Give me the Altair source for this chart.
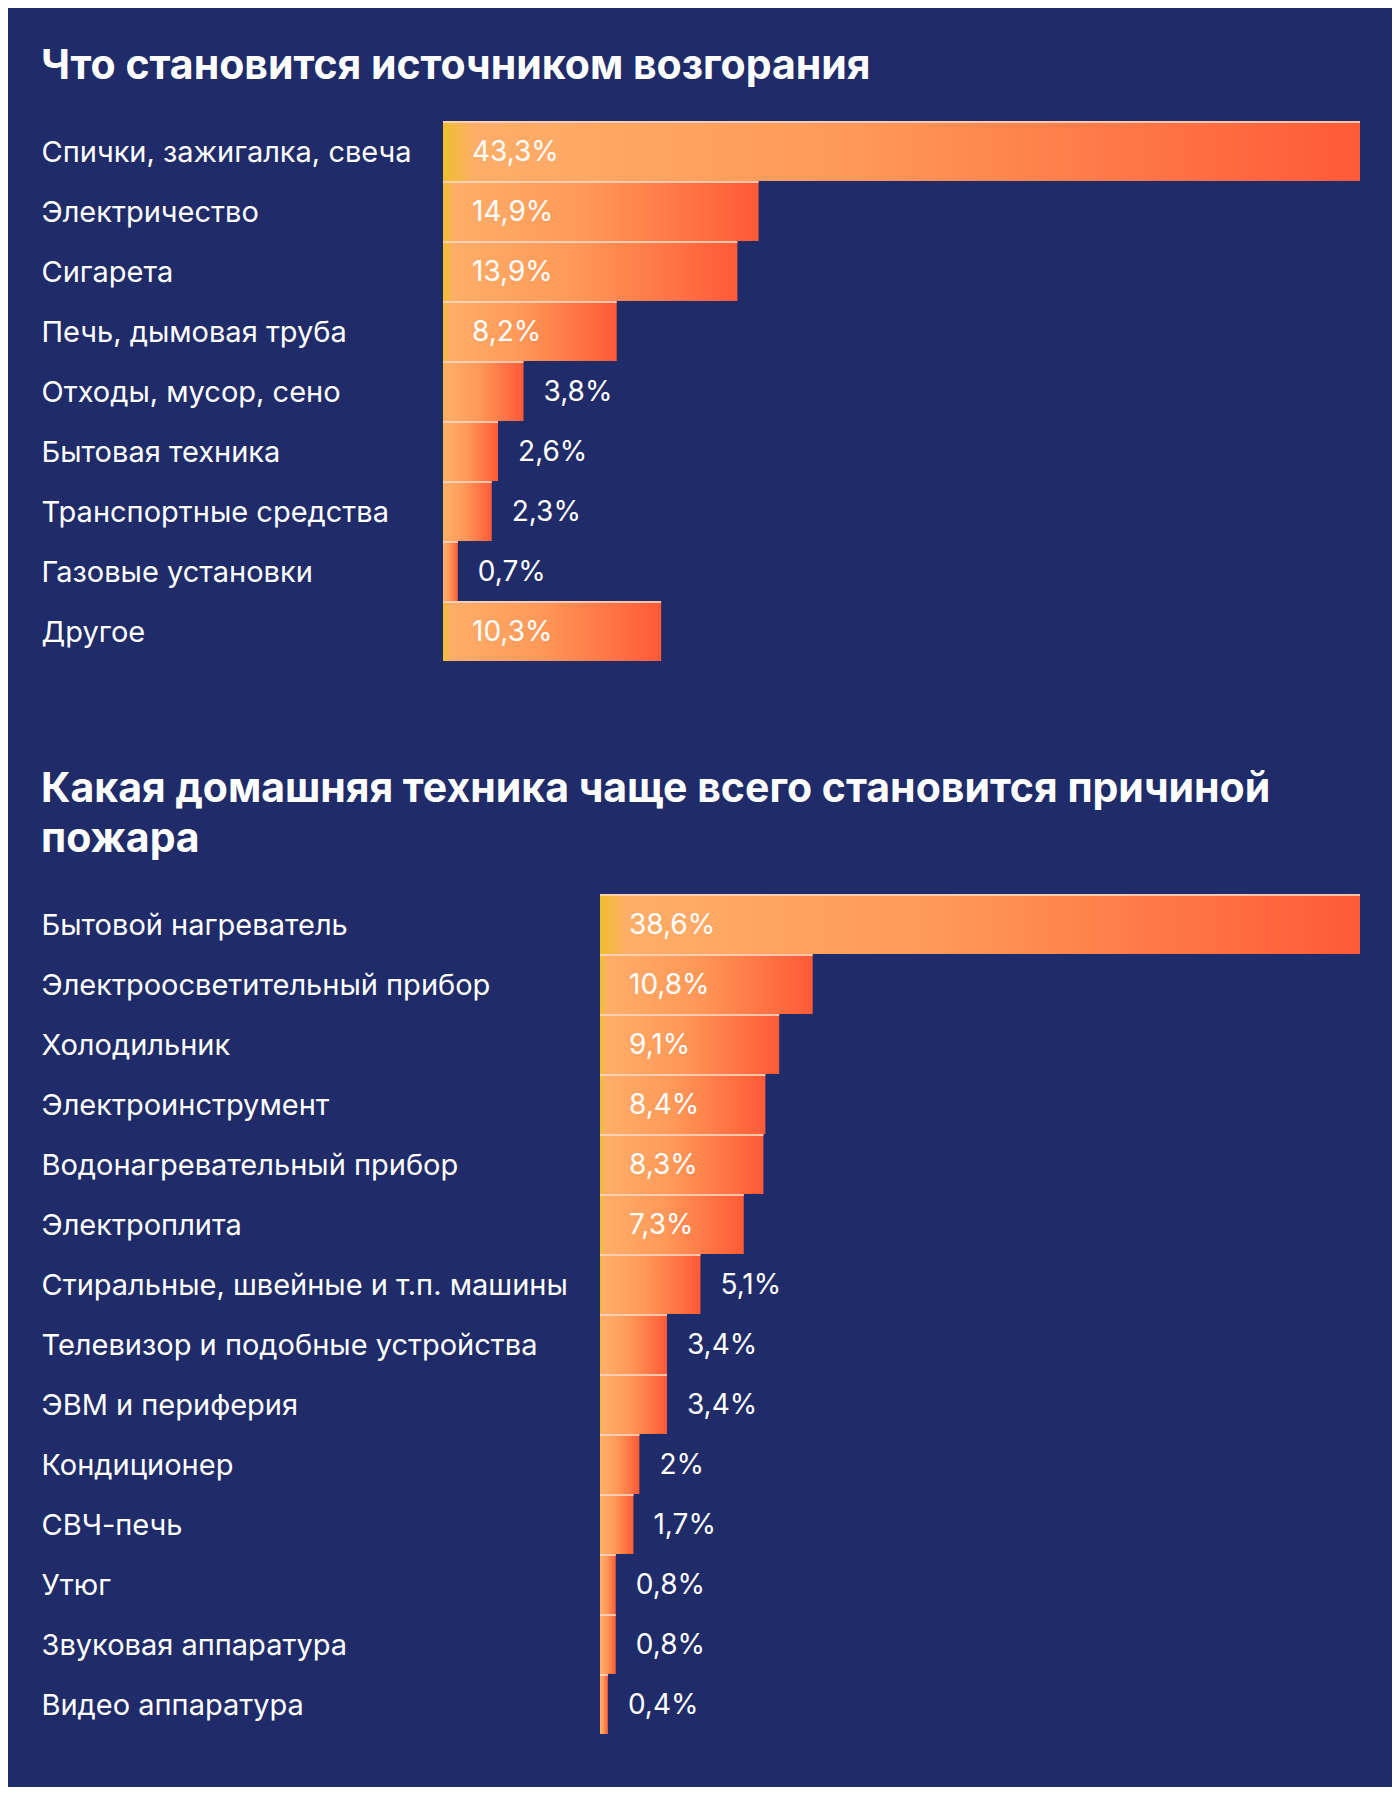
import altair as alt
import pandas as pd

title1 = "Что становится источником возгорания"
cats1 = ["Спички, зажигалка, свеча", "Электричество", "Сигарета", "Печь, дымовая труба",
         "Отходы, мусор, сено", "Бытовая техника", "Транспортные средства",
         "Газовые установки", "Другое"]
vals1 = [43.3, 14.9, 13.9, 8.2, 3.8, 2.6, 2.3, 0.7, 10.3]
labels1 = ["43,3%", "14,9%", "13,9%", "8,2%", "3,8%", "2,6%", "2,3%", "0,7%", "10,3%"]

title2 = ["Какая домашняя техника чаще всего становится причиной", "пожара"]
cats2 = ["Бытовой нагреватель", "Электроосветительный прибор", "Холодильник",
         "Электроинструмент", "Водонагревательный прибор", "Электроплита",
         "Стиральные, швейные и т.п. машины", "Телевизор и подобные устройства",
         "ЭВМ и периферия", "Кондиционер", "СВЧ-печь", "Утюг",
         "Звуковая аппаратура", "Видео аппаратура"]
vals2 = [38.6, 10.8, 9.1, 8.4, 8.3, 7.3, 5.1, 3.4, 3.4, 2, 1.7, 0.8, 0.8, 0.4]
labels2 = ["38,6%", "10,8%", "9,1%", "8,4%", "8,3%", "7,3%", "5,1%", "3,4%", "3,4%",
           "2%", "1,7%", "0,8%", "0,8%", "0,4%"]

BG = "#1f2c69"
FONT = "Inter"
ROW = 60
PLOT_W = 917
LABEL_PAD = 402

grad = {
    "gradient": "linear", "x1": 0, "x2": 1, "y1": 0, "y2": 0,
    "stops": [
        {"offset": 0, "color": "#edbf2c"},
        {"offset": 0.035, "color": "#ffae69"},
        {"offset": 0.45, "color": "#ff9859"},
        {"offset": 1, "color": "#ff5a36"},
    ],
}


def panel(cats, vals, labels, title, range_start, offset):
    df = pd.DataFrame({"cat": cats, "value": vals, "label": labels})
    y = alt.Y(
        "cat:N", sort=cats,
        scale=alt.Scale(paddingInner=0, paddingOuter=0),
        axis=alt.Axis(title=None, labelAlign="left", labelPadding=LABEL_PAD,
                      ticks=False, domain=False, labelFont=FONT,
                      labelFontSize=29, labelColor="#ffffff", labelLimit=700,
                      labelBaseline="middle", labelOffset=2),
    )
    xscale = alt.Scale(domain=[0, max(vals)], nice=False, zero=True,
                       range=[range_start, PLOT_W])
    x = alt.X("value:Q", scale=xscale, axis=None)
    x0 = alt.X("zero:Q", scale=xscale, axis=None)
    base = alt.Chart(df).transform_calculate(zero="0")
    bars = base.mark_bar(fill=grad).encode(x=x, x2=alt.X2("zero:Q"), y=y)
    top = base.mark_bar(color="#ffd6c0", opacity=0.85, height=2, yOffset=-29).encode(
        x=x, x2=alt.X2("zero:Q"), y=y)
    inside = base.transform_filter("datum.value >= 6").mark_text(
        align="left", baseline="middle", dx=29, dy=2, font=FONT, fontSize=28,
        color="#ffffff"
    ).encode(x=x0, y=y, text="label:N")
    outside = base.transform_filter("datum.value < 6").mark_text(
        align="left", baseline="middle", dx=20, dy=2, font=FONT, fontSize=28,
        color="#ffffff"
    ).encode(x=x, y=y, text="label:N")
    return alt.layer(bars, top, inside, outside).properties(
        width=PLOT_W, height=ROW * len(cats),
        title=alt.TitleParams(text=title, anchor="start", frame="bounds", font=FONT,
                              fontSize=41, fontWeight="bold", color="#ffffff",
                              offset=offset, lineHeight=50),
    )


c1 = panel(cats1, vals1, labels1, title1, 0, 33)
c2 = panel(cats2, vals2, labels2, title2, 157, 33)

chart = alt.vconcat(c1, c2, spacing=108).properties(
    background=BG,
    padding={"left": 33, "top": 38, "right": 32, "bottom": 53},
).configure_view(stroke=None)

chart.save("out.html", embed_options={"renderer": "svg", "actions": False})
